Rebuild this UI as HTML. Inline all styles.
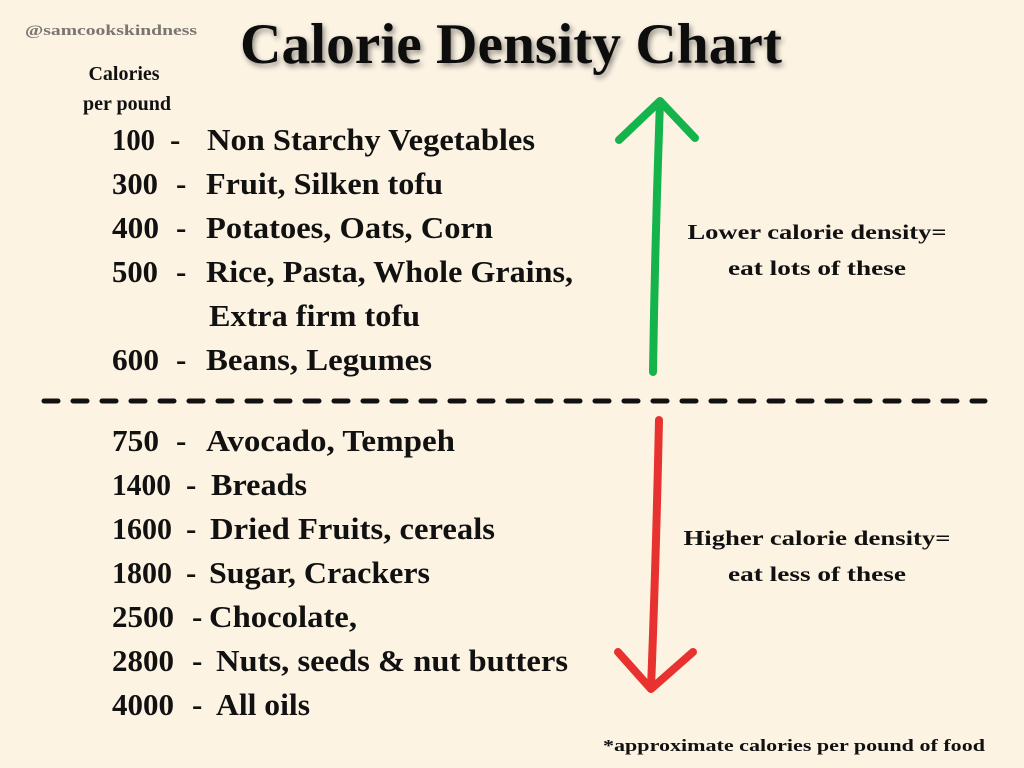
<!DOCTYPE html>
<html><head><meta charset="utf-8"><style>
html,body{margin:0;padding:0;background:#fcf3e3;}
svg{display:block}
text{font-family:"Liberation Serif",serif;font-weight:bold;fill:#111;}
</style></head><body>
<svg width="1024" height="768" viewBox="0 0 1024 768">
<defs><filter id="sh" x="-10%" y="-30%" width="120%" height="160%"><feGaussianBlur in="SourceAlpha" stdDeviation="3"/><feOffset dx="2" dy="3"/><feComponentTransfer><feFuncA type="linear" slope="0.45"/></feComponentTransfer><feMerge><feMergeNode/><feMergeNode in="SourceGraphic"/></feMerge></filter></defs>
<rect width="1024" height="768" fill="#fcf3e3"/>
<text x="25" y="35" font-size="15" style="fill:#7a7570" textLength="172" lengthAdjust="spacingAndGlyphs">@samcookskindness</text>
<text x="240" y="63" font-size="57" filter="url(#sh)" textLength="542" lengthAdjust="spacingAndGlyphs">Calorie Density Chart</text>
<text x="124" y="80" font-size="20" text-anchor="middle">Calories</text>
<text x="127" y="110" font-size="20" text-anchor="middle">per pound</text>
<g font-size="31">
<g><text x="112" y="150" textLength="43" lengthAdjust="spacingAndGlyphs">100</text><text x="170" y="150">-</text><text x="207" y="150" textLength="328" lengthAdjust="spacingAndGlyphs">Non Starchy Vegetables</text></g>
<g><text x="112" y="194" textLength="46" lengthAdjust="spacingAndGlyphs">300</text><text x="176" y="194">-</text><text x="206" y="194" textLength="237" lengthAdjust="spacingAndGlyphs">Fruit, Silken tofu</text></g>
<g><text x="112" y="238" textLength="47" lengthAdjust="spacingAndGlyphs">400</text><text x="176" y="238">-</text><text x="206" y="238" textLength="287" lengthAdjust="spacingAndGlyphs">Potatoes, Oats, Corn</text></g>
<g><text x="112" y="282" textLength="46" lengthAdjust="spacingAndGlyphs">500</text><text x="176" y="282">-</text><text x="206" y="282" textLength="367" lengthAdjust="spacingAndGlyphs">Rice, Pasta, Whole Grains,</text><text x="209" y="326" textLength="211" lengthAdjust="spacingAndGlyphs">Extra firm tofu</text></g>
<g><text x="112" y="370" textLength="47" lengthAdjust="spacingAndGlyphs">600</text><text x="176" y="370">-</text><text x="206" y="370" textLength="226" lengthAdjust="spacingAndGlyphs">Beans, Legumes</text></g>
<g><text x="112" y="451" textLength="47" lengthAdjust="spacingAndGlyphs">750</text><text x="176" y="451">-</text><text x="206" y="451" textLength="249" lengthAdjust="spacingAndGlyphs">Avocado, Tempeh</text></g>
<g><text x="112" y="495" textLength="59" lengthAdjust="spacingAndGlyphs">1400</text><text x="186" y="495">-</text><text x="211" y="495" textLength="96" lengthAdjust="spacingAndGlyphs">Breads</text></g>
<g><text x="112" y="539" textLength="60" lengthAdjust="spacingAndGlyphs">1600</text><text x="186" y="539">-</text><text x="210" y="539" textLength="285" lengthAdjust="spacingAndGlyphs">Dried Fruits, cereals</text></g>
<g><text x="112" y="583" textLength="60" lengthAdjust="spacingAndGlyphs">1800</text><text x="186" y="583">-</text><text x="209" y="583" textLength="221" lengthAdjust="spacingAndGlyphs">Sugar, Crackers</text></g>
<g><text x="112" y="627" textLength="62" lengthAdjust="spacingAndGlyphs">2500</text><text x="192" y="627">-</text><text x="209" y="627" textLength="148" lengthAdjust="spacingAndGlyphs">Chocolate,</text></g>
<g><text x="112" y="671" textLength="62" lengthAdjust="spacingAndGlyphs">2800</text><text x="192" y="671">-</text><text x="216" y="671" textLength="352" lengthAdjust="spacingAndGlyphs">Nuts, seeds &amp; nut butters</text></g>
<g><text x="112" y="715" textLength="62" lengthAdjust="spacingAndGlyphs">4000</text><text x="192" y="715">-</text><text x="216" y="715" textLength="94" lengthAdjust="spacingAndGlyphs">All oils</text></g>
</g>
<line x1="44" y1="401" x2="985" y2="401" stroke="#111" stroke-width="5" stroke-dasharray="14 15" stroke-linecap="round"/>
<g stroke="#14b34b" stroke-width="8" fill="none" stroke-linecap="round" stroke-linejoin="round">
<path d="M653 372 Q655 240 660 102"/><path d="M619 140 L660 101 L695 138"/></g>
<g stroke="#e8322f" stroke-width="8" fill="none" stroke-linecap="round" stroke-linejoin="round">
<path d="M659 420 Q656 560 651 688"/><path d="M618 652 L651 689 L693 652"/></g>
<text x="817" y="239" font-size="21" text-anchor="middle" textLength="259" lengthAdjust="spacingAndGlyphs">Lower calorie density=</text>
<text x="817" y="275" font-size="21" text-anchor="middle" textLength="178" lengthAdjust="spacingAndGlyphs">eat lots of these</text>
<text x="817" y="545" font-size="21" text-anchor="middle" textLength="267" lengthAdjust="spacingAndGlyphs">Higher calorie density=</text>
<text x="817" y="581" font-size="21" text-anchor="middle" textLength="178" lengthAdjust="spacingAndGlyphs">eat less of these</text>
<text x="985" y="751" font-size="17" text-anchor="end" textLength="382" lengthAdjust="spacingAndGlyphs">*approximate calories per pound of food</text>
</svg>
</body></html>
